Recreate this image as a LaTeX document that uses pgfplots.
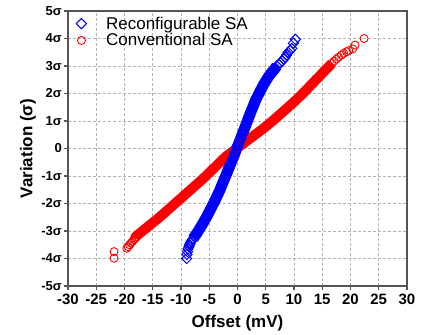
\documentclass[border=0pt]{standalone}
\usepackage{pgfplots}
\pgfplotsset{compat=1.18}
\usetikzlibrary{calc}
\usepackage{fontspec}
\setmainfont{Liberation Sans}

\pgfplotstableread{
x y
-21.85 -3.99
-21.85 -3.75
-19.6 -3.63
-19.35 -3.57
-19.1 -3.50
-18.85 -3.44
-18.6 -3.38
-18.35 -3.32
-18.1 -3.27
-18.0 -3.2
-17.4 -3.1
-16.8 -3.0
-16.2 -2.9
-15.6 -2.8
-15.0 -2.7
-14.4 -2.6
-13.8 -2.5
-13.25 -2.4
-12.7 -2.3
-12.15 -2.2
-11.6 -2.1
-11.05 -2.0
-10.5 -1.9
-9.95 -1.8
-9.4 -1.7
-8.85 -1.6
-8.3 -1.5
-7.75 -1.4
-7.2 -1.3
-6.65 -1.2
-6.1 -1.1
-5.6 -1.0
-5.1 -0.9
-4.6 -0.8
-4.1 -0.7
-3.6 -0.6
-3.1 -0.5
-2.6 -0.4
-2.1 -0.3
-1.45 -0.2
-0.8 -0.1
-0.15 0.0
0.5 0.1
1.15 0.2
1.8 0.3
2.45 0.4
3.1 0.5
3.75 0.6
4.4 0.7
5.0 0.8
5.6 0.9
6.2 1.0
6.75 1.1
7.3 1.2
7.85 1.3
8.4 1.4
8.95 1.5
9.5 1.6
10.05 1.7
10.55 1.8
11.05 1.9
11.55 2.0
12.05 2.1
12.5 2.2
12.95 2.3
13.45 2.4
13.9 2.5
14.4 2.6
14.85 2.7
15.3 2.8
15.8 2.9
16.25 3.0
16.7 3.1
17.1 3.18
17.5 3.25
17.9 3.32
18.4 3.40
18.8 3.46
19.3 3.52
19.7 3.56
20.4 3.62
20.8 3.76
22.4 4.0
}\convtable

\pgfplotstableread{
x y
-18.1 -3.27
-18.0 -3.2
-17.4 -3.1
-16.8 -3.0
-16.2 -2.9
-15.6 -2.8
-15.0 -2.7
-14.4 -2.6
-13.8 -2.5
-13.25 -2.4
-12.7 -2.3
-12.15 -2.2
-11.6 -2.1
-11.05 -2.0
-10.5 -1.9
-9.95 -1.8
-9.4 -1.7
-8.85 -1.6
-8.3 -1.5
-7.75 -1.4
-7.2 -1.3
-6.65 -1.2
-6.1 -1.1
-5.6 -1.0
-5.1 -0.9
-4.6 -0.8
-4.1 -0.7
-3.6 -0.6
-3.1 -0.5
-2.6 -0.4
-2.1 -0.3
-1.45 -0.2
-0.8 -0.1
-0.15 0.0
0.5 0.1
1.15 0.2
1.8 0.3
2.45 0.4
3.1 0.5
3.75 0.6
4.4 0.7
5.0 0.8
5.6 0.9
6.2 1.0
6.75 1.1
7.3 1.2
7.85 1.3
8.4 1.4
8.95 1.5
9.5 1.6
10.05 1.7
10.55 1.8
11.05 1.9
11.55 2.0
12.05 2.1
12.5 2.2
12.95 2.3
13.45 2.4
13.9 2.5
14.4 2.6
14.85 2.7
15.3 2.8
15.8 2.9
16.25 3.0
16.7 3.1
}\convband

\pgfplotstableread{
x y
-9.00 -4.00
-8.95 -3.85
-8.85 -3.75
-8.75 -3.65
-8.6 -3.57
-8.5 -3.50
-8.35 -3.44
-8.2 -3.38
-8.05 -3.33
-7.85 -3.28
-7.6 -3.2
-7.25 -3.1
-6.95 -3.0
-6.65 -2.9
-6.35 -2.8
-6.05 -2.7
-5.8 -2.6
-5.5 -2.5
-5.25 -2.4
-5.0 -2.3
-4.75 -2.2
-4.5 -2.1
-4.25 -2.0
-4.0 -1.9
-3.78 -1.8
-3.55 -1.7
-3.32 -1.6
-3.1 -1.5
-2.9 -1.4
-2.7 -1.3
-2.5 -1.2
-2.3 -1.1
-2.1 -1.0
-1.9 -0.9
-1.7 -0.8
-1.5 -0.7
-1.3 -0.6
-1.1 -0.5
-0.9 -0.4
-0.7 -0.3
-0.5 -0.2
-0.33 -0.1
-0.15 0.0
0.05 0.1
0.25 0.2
0.45 0.3
0.63 0.4
0.82 0.5
1.0 0.6
1.2 0.7
1.38 0.8
1.56 0.9
1.75 1.0
1.93 1.1
2.12 1.2
2.3 1.3
2.5 1.4
2.7 1.5
2.9 1.6
3.1 1.7
3.3 1.8
3.55 1.9
3.8 2.0
4.05 2.1
4.3 2.2
4.55 2.3
4.85 2.4
5.15 2.5
5.45 2.6
5.8 2.7
6.2 2.8
6.6 2.9
6.95 3.0
7.3 3.06
7.6 3.12
7.9 3.18
8.2 3.25
8.45 3.32
8.7 3.40
8.95 3.50
9.3 3.56
9.6 3.64
9.9 3.83
10.25 3.97
}\reconftable

\pgfplotstableread{
x y
-7.85 -3.28
-7.6 -3.2
-7.25 -3.1
-6.95 -3.0
-6.65 -2.9
-6.35 -2.8
-6.05 -2.7
-5.8 -2.6
-5.5 -2.5
-5.25 -2.4
-5.0 -2.3
-4.75 -2.2
-4.5 -2.1
-4.25 -2.0
-4.0 -1.9
-3.78 -1.8
-3.55 -1.7
-3.32 -1.6
-3.1 -1.5
-2.9 -1.4
-2.7 -1.3
-2.5 -1.2
-2.3 -1.1
-2.1 -1.0
-1.9 -0.9
-1.7 -0.8
-1.5 -0.7
-1.3 -0.6
-1.1 -0.5
-0.9 -0.4
-0.7 -0.3
-0.5 -0.2
-0.33 -0.1
-0.15 0.0
0.05 0.1
0.25 0.2
0.45 0.3
0.63 0.4
0.82 0.5
1.0 0.6
1.2 0.7
1.38 0.8
1.56 0.9
1.75 1.0
1.93 1.1
2.12 1.2
2.3 1.3
2.5 1.4
2.7 1.5
2.9 1.6
3.1 1.7
3.3 1.8
3.55 1.9
3.8 2.0
4.05 2.1
4.3 2.2
4.55 2.3
4.85 2.4
5.15 2.5
5.45 2.6
5.8 2.7
6.2 2.8
6.6 2.9
6.95 3.0
}\reconfband

\definecolor{frame}{RGB}{85,85,85}

\begin{document}
\begin{tikzpicture}
\begin{axis}[
  scale only axis,
  width=339pt, height=275pt,
  xmin=-30, xmax=30, ymin=-5, ymax=5,
  xtick={-30,-25,...,30},
  xticklabels={-30,-25,-20,-15,-10,-5,0,5,10,15,20,25,30},
  ytick={-5,-4,...,5},
  yticklabels={-5σ,-4σ,-3σ,-2σ,-1σ,0,1σ,2σ,3σ,4σ,5σ},
  tick align=outside,
  xtick pos=bottom, ytick pos=left,
  major tick length=4pt,
  tick style={frame, line width=1.2pt},
  axis line style={frame, line width=1.6pt},
  grid=major,
  major grid style={densely dashed, black!30, line width=0.6pt},
  x tick label style={font=\fontsize{15}{15}\selectfont\bfseries, inner sep=1pt, yshift=-3pt},
  y tick label style={font=\fontsize{13}{13}\selectfont\bfseries, inner sep=1pt, xshift=-1pt},
  xlabel={Offset (mV)},
  ylabel={Variation (σ)},
  every axis x label/.style={at={(axis description cs:0.5,-0.135)}, anchor=center, font=\fontsize{17}{17}\selectfont\bfseries},
  every axis y label/.style={at={(axis description cs:-0.118,0.5)}, rotate=90, anchor=center, font=\fontsize{17}{17}\selectfont\bfseries},
  legend style={at={(axis description cs:0,1)}, anchor=north west, xshift=6pt, yshift=-4pt,
    draw=none, fill=none,
    font=\fontsize{17}{17}\selectfont, row sep=2pt, inner sep=1pt,
    nodes={inner sep=0.5pt}},
  legend image code/.code={\path (-6pt,0pt) (24pt,0pt); \draw[#1] plot coordinates {(0pt,0pt)};},
  legend cell align=left,
  clip=false,
]
\addlegendimage{only marks, blue, mark=square, mark size=3.6pt, mark options={rotate=45, line width=1pt}}
\addlegendentry{Reconfigurable SA}
\addlegendimage{only marks, red, mark=o, mark size=4pt, mark options={line width=0.9pt}}
\addlegendentry{Conventional SA}

\addplot[forget plot, red, line width=10pt, line join=round] table {\convband};
\addplot[forget plot, only marks, red, mark=o, mark size=4pt, mark options={line width=0.9pt}] table {\convtable};
\addplot[forget plot, blue, line width=11pt, line join=round] table {\reconfband};
\addplot[forget plot, only marks, blue, mark=square, mark size=3.6pt, mark options={rotate=45, line width=1pt}] table {\reconftable};

\coordinate (ll) at (rel axis cs:0,0);
\coordinate (ur) at (rel axis cs:1,1);
\end{axis}
\pgfresetboundingbox
\path ($(ll)+(-68pt,-49pt)$) rectangle ($(ur)+(20pt,11pt)$);
\end{tikzpicture}
\end{document}
